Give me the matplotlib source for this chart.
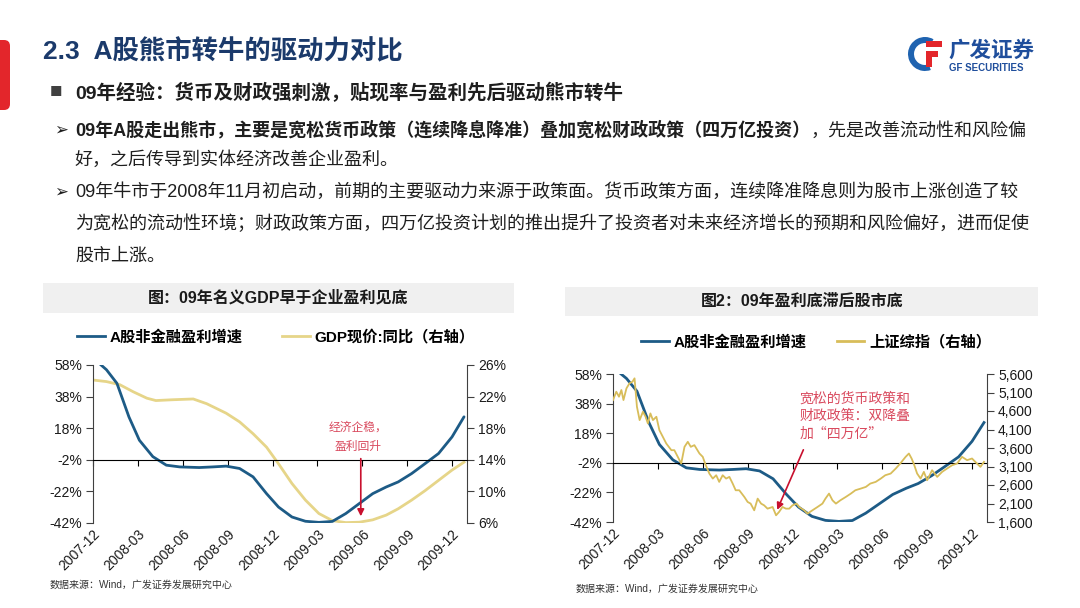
import matplotlib.pyplot as plt
from matplotlib.patches import FancyBboxPatch, Rectangle, Wedge
from matplotlib.lines import Line2D

plt.rcParams['font.family'] = ['Liberation Sans', 'Noto Sans CJK SC', 'DejaVu Sans']
CJK = ['Noto Sans CJK SC', 'DejaVu Sans']

# x positions: months since 2007-12
quarter_pos = [0, 3, 6, 9, 12, 15, 18, 21, 24]
quarter_labels = ['2007-12', '2008-03', '2008-06', '2008-09', '2008-12',
                  '2009-03', '2009-06', '2009-09', '2009-12']

# A股非金融盈利增速 (%), left axis
profit_m = [0.3, 0.9, 1.6, 2.4, 3.1, 4.0, 4.9, 5.8, 7.1, 8.0, 8.9, 9.8, 10.7, 11.6,
            12.4, 13.3, 14.2, 15.1, 16.0, 16.9, 17.8, 18.7, 19.6, 20.4, 21.3, 22.2,
            23.1, 24.0, 24.8]
profit_yoy = [60, 55, 46.4, 25.2, 10.4, 0, -5.4, -6.5, -6.9, -6.5, -6, -7.5, -12.8,
              -23.4, -31.9, -38.2, -40.9, -41.6, -41, -36, -29.7, -23.4, -19.2, -16,
              -10.7, -4.4, 2, 12.5, 25.2]

# GDP现价:同比 (%), right axis
gdp_m = [0, 0.9, 1.8, 2.7, 3.6, 4.2, 5.3, 6.7, 7.6, 8.9, 9.8, 10.7, 11.6, 12.4, 13.3,
         14.2, 15.1, 16.0, 16.9, 17.8, 18.7, 19.6, 20.4, 21.3, 22.2, 23.1, 24.0, 24.8]
gdp_yoy = [24.1, 23.9, 23.5, 22.6, 21.8, 21.5, 21.6, 21.7, 21.1, 19.9, 18.8, 17.3,
           15.6, 13.5, 11.0, 8.9, 7.2, 6.3, 6.05, 6.1, 6.4, 7.0, 7.8, 8.9, 10.1,
           11.4, 12.7, 13.7]

# 上证综指, right axis
sh_m = [0, 0.22, 0.4, 0.56, 0.7, 0.9, 1.1, 1.3, 1.44, 1.6,
        1.78, 2.0, 2.18, 2.33, 2.5, 2.67, 2.9, 3.1, 3.33, 3.56,
        3.9, 4.1, 4.33, 4.56, 4.78, 5.0, 5.2, 5.44, 5.78, 6.0,
        6.2, 6.44, 6.67, 6.9, 7.1, 7.33, 7.56, 7.78, 8.0, 8.2,
        8.44, 8.78, 9.0, 9.2, 9.44, 9.67, 9.9, 10.1, 10.33, 10.67,
        10.9, 11.1, 11.33, 11.56, 11.78, 12.0, 12.27, 12.44, 12.78, 13.0,
        13.33, 13.67, 14.0, 14.2, 14.44, 14.67, 14.9, 15.2, 15.56, 15.9,
        16.2, 16.56, 16.9, 17.2, 17.56, 17.9, 18.2, 18.56, 18.9, 19.2,
        19.56, 19.78, 19.96, 20.1, 20.33, 20.56, 20.78, 21.0, 21.33, 21.67,
        22.0, 22.33, 22.67, 23.0, 23.33, 23.67, 24.0, 24.33, 24.56, 24.8]
sh_close = [4896, 5121, 4986, 5167, 4896, 5212, 5347, 5392, 5483, 4715,
            4354, 4580, 4444, 4264, 4535, 4354, 4444, 4083, 3903, 3722,
            3541, 3541, 3361, 3180, 3632, 3767, 3632, 3677, 3451, 3361,
            3135, 2909, 2774, 2864, 2684, 2864, 2774, 2819, 2639, 2458,
            2458, 2277, 2142, 2097, 1916, 2232, 2097, 2051, 1961, 2006,
            1781, 1871, 2006, 1961, 1961, 2051, 2097, 2006, 1916, 1826,
            1916, 2006, 2097, 2232, 2368, 2187, 2097, 2187, 2277, 2368,
            2458, 2503, 2548, 2639, 2684, 2774, 2864, 2909, 3045, 3180,
            3361, 3451, 3316, 3180, 2909, 2774, 2955, 2729, 3000, 2819,
            2955, 3045, 3135, 3180, 3361, 3271, 3316, 3180, 3090, 3225]

left_ticks = [58, 38, 18, -2, -22, -42]
gdp_ticks = [26, 22, 18, 14, 10, 6]
sh_ticks = [5600, 5100, 4600, 4100, 3600, 3100, 2600, 2100, 1600]

BLUE = '#1d5b86'
GDP_YEL = '#e6d589'
SH_YEL = '#d8bd5a'
RED = '#c8102e'
NOTE = '#d94a5e'
NAVY = '#1b3a6b'
SPINE = '#404040'

fig = plt.figure(figsize=(10.8, 6.08), dpi=100)

# full-figure layer in pixel units (y downwards)
bg = fig.add_axes([0, 0, 1, 1])
bg.set_xlim(0, 1080)
bg.set_ylim(608, 0)
bg.axis('off')

bg.add_patch(FancyBboxPatch((-8, 40), 18, 70, boxstyle='round,pad=0,rounding_size=6',
                            fc='#e3262b', ec='none'))
bg.text(43, 52, '2.3  A股熊市转牛的驱动力对比', fontsize=19, fontweight='bold',
        color=NAVY, va='center', ha='left')

# logo
bg.add_patch(Wedge((925, 54), 17, 70, 300, width=6, fc='#1f63b0', ec='none'))
bg.add_patch(Rectangle((926, 41), 16, 6, fc='#e3262b', ec='none'))
bg.add_patch(Rectangle((926, 51), 12, 6, fc='#e3262b', ec='none'))
bg.add_patch(Rectangle((926, 51), 6, 16, fc='#e3262b', ec='none'))
bg.text(948, 50, '广发证券', fontsize=15.5, fontweight='bold', color='#1f4e9c',
        va='center', ha='left', family=CJK)
bg.text(949, 68, 'GF SECURITIES', fontsize=7, fontweight='bold', color='#1f4e9c',
        va='center', ha='left')

# bullet text
TXT = '#1e1e1e'
FS = 13
bg.text(50, 93, '■', fontsize=9, color='#404040', va='center', ha='left', family=CJK)
bg.text(75, 93, '09年经验：货币及财政强刺激，贴现率与盈利先后驱动熊市转牛',
        fontsize=14, fontweight='bold', color=TXT, va='center', ha='left')
for yy in [130, 192]:
    bg.text(54, yy, '➢', fontsize=12, color=TXT, va='center', ha='left',
            family=['DejaVu Sans'])
t1 = bg.text(75, 130, '09年A股走出熊市，主要是宽松货币政策（连续降息降准）叠加宽松财政政策（四万亿投资）',
             fontsize=FS, fontweight='bold', color=TXT, va='center', ha='left')
bg.annotate('，先是改善流动性和风险偏', xy=(1, 0), xycoords=t1, fontsize=FS,
            color=TXT, va='bottom', ha='left')
body = [(160, '好，之后传导到实体经济改善企业盈利。'),
        (192, '09年牛市于2008年11月初启动，前期的主要驱动力来源于政策面。货币政策方面，连续降准降息则为股市上涨创造了较'),
        (224, '为宽松的流动性环境；财政政策方面，四万亿投资计划的推出提升了投资者对未来经济增长的预期和风险偏好，进而促使'),
        (256, '股市上涨。')]
for yy, s in body:
    bg.text(75, yy, s, fontsize=FS, color=TXT, va='center', ha='left')

# chart title boxes and sources
bg.add_patch(Rectangle((43, 283), 471, 30, fc='#f0f0f0', ec='none'))
bg.text(278, 298, '图：09年名义GDP早于企业盈利见底', fontsize=11.5, fontweight='bold',
        color='#1a1a1a', va='center', ha='center')
bg.add_patch(Rectangle((565, 287), 473, 29, fc='#f0f0f0', ec='none'))
bg.text(802, 301, '图2：09年盈利底滞后股市底', fontsize=11.5, fontweight='bold',
        color='#1a1a1a', va='center', ha='center')
bg.text(50, 585, '数据来源：Wind，广发证券发展研究中心', fontsize=7.2, color='#333333',
        va='center', ha='left')
bg.text(576, 589, '数据来源：Wind，广发证券发展研究中心', fontsize=7.2, color='#333333',
        va='center', ha='left')


def make_chart(rect, right_lim, right_ticks, right_fmt):
    ax = fig.add_axes(rect)
    ax2 = ax.twinx()
    ax.set_xlim(0, 25)
    ax.set_ylim(-42, 58)
    ax.set_yticks(left_ticks, [f'{v}%' for v in left_ticks])
    ax2.set_ylim(*right_lim)
    ax2.set_yticks(right_ticks, [right_fmt(v) for v in right_ticks])
    for a in (ax, ax2):
        for s in a.spines.values():
            s.set_visible(False)
        a.patch.set_visible(False)
    ax.spines['left'].set_visible(True)
    ax.spines['left'].set_color(SPINE)
    ax2.spines['right'].set_visible(True)
    ax2.spines['right'].set_color(SPINE)
    ax.tick_params(axis='y', direction='out', length=5, color=SPINE, labelsize=10,
                   pad=3, labelcolor='#1a1a1a')
    ax2.tick_params(axis='y', direction='out', length=5, color=SPINE, labelsize=10,
                    pad=3, labelcolor='#1a1a1a')
    # baseline at -2% with quarter ticks
    ax.spines['bottom'].set_visible(True)
    ax.spines['bottom'].set_position(('data', -2))
    ax.spines['bottom'].set_color('black')
    ax.set_xticks(quarter_pos)
    ax.tick_params(axis='x', direction='out', length=4, color='black', labelbottom=False)
    sec = ax.secondary_xaxis(0)
    sec.set_xticks(quarter_pos, quarter_labels)
    sec.spines['bottom'].set_visible(False)
    sec.tick_params(length=0, pad=3, labelsize=10, labelcolor='#1a1a1a')
    for lab in sec.get_xticklabels():
        lab.set_rotation(45)
        lab.set_ha('right')
        lab.set_rotation_mode('anchor')
    return ax, ax2


# left chart
axL, axL2 = make_chart([93 / 1080, 1 - 523 / 608, 374 / 1080, 158 / 608],
                       (6, 26), gdp_ticks, lambda v: f'{v}%')
axL.plot(profit_m, profit_yoy, color=BLUE, lw=2.0, solid_capstyle='round')
axL2.plot(gdp_m, gdp_yoy, color=GDP_YEL, lw=2.0)
axL.set_zorder(axL2.get_zorder() + 1)
axL.annotate('', xy=(17.9, -39.5), xytext=(17.9, 0.5),
             arrowprops=dict(arrowstyle='-|>', color=RED, lw=1.2, mutation_scale=10))
axL.text(17.7, 12.6, '经济企稳，\n盈利回升', fontsize=8.5, color=NOTE, ha='center',
         va='center', linespacing=1.55, family=CJK)
axL.legend(handles=[Line2D([], [], color=BLUE, lw=2.0),
                    Line2D([], [], color=GDP_YEL, lw=2.0)],
           labels=['A股非金融盈利增速', 'GDP现价:同比（右轴）'],
           loc='center', bbox_to_anchor=(276 / 1080, 1 - 337 / 608),
           bbox_transform=fig.transFigure, ncol=2, frameon=False,
           handlelength=1.8, handletextpad=0.3, columnspacing=2.6,
           prop={'weight': 'bold', 'size': 11})

# right chart
axR, axR2 = make_chart([613 / 1080, 1 - 522 / 608, 374 / 1080, 148 / 608],
                       (1600, 5600), sh_ticks, lambda v: f'{v:,}')
axR.plot(profit_m, profit_yoy, color=BLUE, lw=2.0)
axR2.plot(sh_m, sh_close, color=SH_YEL, lw=1.3)
axR.annotate('', xy=(10.9, -35.5), xytext=(12.8, 8.5),
             arrowprops=dict(arrowstyle='-|>', color=RED, lw=1.2, mutation_scale=10))
axR.text(12.45, 29.5, '宽松的货币政策和\n财政政策：双降叠\n加“四万亿”', fontsize=10,
         color=NOTE, ha='left', va='center', linespacing=1.3, family=CJK)
axR.legend(handles=[Line2D([], [], color=BLUE, lw=2.0),
                    Line2D([], [], color=SH_YEL, lw=2.0)],
           labels=['A股非金融盈利增速', '上证综指（右轴）'],
           loc='center', bbox_to_anchor=(816 / 1080, 1 - 342 / 608),
           bbox_transform=fig.transFigure, ncol=2, frameon=False,
           handlelength=1.8, handletextpad=0.3, columnspacing=2.0,
           prop={'weight': 'bold', 'size': 11})

fig.savefig('out.png', dpi=100, facecolor='white')
